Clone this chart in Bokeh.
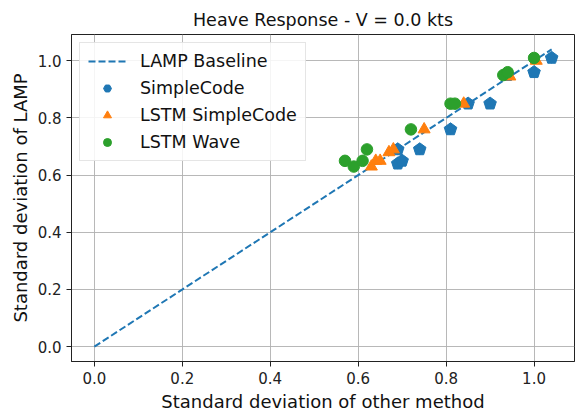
import math
from bokeh.plotting import figure
from bokeh.models import Range1d, Legend, LegendItem, FixedTicker, PrintfTickFormatter
from bokeh.embed import file_html
from bokeh.resources import INLINE

# Data
baseline_x = [0.0, 1.04]
baseline_y = [0.0, 1.04]

sc_x = [0.69, 0.70, 0.69, 0.74, 0.81, 0.85, 0.90, 0.94, 1.00, 1.04]
sc_y = [0.64, 0.65, 0.69, 0.69, 0.76, 0.85, 0.85, 0.95, 0.96, 1.01]

lstm_sc_x = [0.63, 0.64, 0.65, 0.67, 0.68, 0.75, 0.84, 0.945, 1.005]
lstm_sc_y = [0.63, 0.65, 0.65, 0.68, 0.69, 0.76, 0.85, 0.945, 1.0]

wave_x = [0.57, 0.59, 0.61, 0.62, 0.72, 0.81, 0.82, 0.93, 0.94, 1.00]
wave_y = [0.65, 0.63, 0.65, 0.69, 0.76, 0.85, 0.85, 0.95, 0.96, 1.01]

ticks = [0.0, 0.2, 0.4, 0.6, 0.8, 1.0]

BLUE = "#1f77b4"
ORANGE = "#ff7f0e"
GREEN = "#2ca02c"
FONT = "DejaVu Sans"

W, H = 575, 414
ML, MR, MT, MB = 71, 1, 34, 52
x0, x1 = -0.052, 1.092
y0, y1 = -0.052, 1.092

p = figure(width=W, height=H, output_backend="svg", toolbar_location=None,
           x_range=Range1d(x0, x1), y_range=Range1d(y0, y1),
           min_border_left=ML, min_border_right=MR, min_border_top=MT, min_border_bottom=MB,
           title="Heave Response - V = 0.0 kts")
p.title.align = "center"
p.title.text_font = FONT
p.title.text_font_size = "17.5px"
p.title.text_font_style = "normal"
p.title.text_color = "#111111"

for ax in (p.xaxis, p.yaxis):
    ax.ticker = FixedTicker(ticks=ticks)
    ax.formatter = PrintfTickFormatter(format="%.1f")
    ax.major_label_text_font = FONT
    ax.major_label_text_font_size = "15px"
    ax.major_label_text_color = "#222222"
    ax.axis_label_text_font = FONT
    ax.axis_label_text_font_size = "18px"
    ax.axis_label_text_font_style = "normal"
    ax.axis_label_text_color = "#111111"
    ax.minor_tick_line_color = None
    ax.major_tick_out = 5
    ax.major_tick_in = 0
    ax.axis_line_color = "#222222"
    ax.major_tick_line_color = "#222222"
    ax.axis_label_standoff = 4
p.xaxis.axis_label = "Standard deviation of other method"
p.yaxis.axis_label = "Standard deviation of LAMP"

p.grid.grid_line_color = "#b0b0b0"
p.grid.grid_line_alpha = 0.9
p.outline_line_color = "#222222"

r_line = p.line(baseline_x, baseline_y, line_color=BLUE, line_width=2, line_dash="7 3")

# SimpleCode: hex markers (used for the legend) covered by pentagon patches
r_sc = p.scatter(sc_x, sc_y, marker="hex", size=10, angle=math.pi / 2,
                 fill_color=BLUE, line_color=BLUE)
fw = W - ML - MR
fh = H - MT - MB
sx = (x1 - x0) / fw
sy = (y1 - y0) / fh
rad = 6.6
xs, ys = [], []
for cx, cy in zip(sc_x, sc_y):
    xs.append([cx + rad * math.cos(math.radians(90 + 72 * k)) * sx for k in range(5)])
    ys.append([cy + rad * math.sin(math.radians(90 + 72 * k)) * sy for k in range(5)])
p.patches(xs, ys, fill_color=BLUE, line_color=BLUE)

r_lsc = p.scatter(lstm_sc_x, lstm_sc_y, marker="triangle", size=12,
                  fill_color=ORANGE, line_color=ORANGE)
r_wave = p.scatter(wave_x, wave_y, marker="circle", size=11.5,
                   fill_color=GREEN, line_color=GREEN)

legend = Legend(items=[
    LegendItem(label="LAMP Baseline", renderers=[r_line]),
    LegendItem(label="SimpleCode", renderers=[r_sc]),
    LegendItem(label="LSTM SimpleCode", renderers=[r_lsc]),
    LegendItem(label="LSTM Wave", renderers=[r_wave]),
], location="top_left")
legend.label_text_font = FONT
legend.label_text_font_size = "17.5px"
legend.label_text_color = "#111111"
legend.glyph_width = 38
legend.glyph_height = 20
legend.spacing = 7
legend.padding = 8
legend.margin = 8
legend.label_standoff = 14
legend.border_line_color = "#cccccc"
legend.background_fill_alpha = 0.85
p.add_layout(legend)

open("out.html", "w").write(file_html(p, INLINE))
